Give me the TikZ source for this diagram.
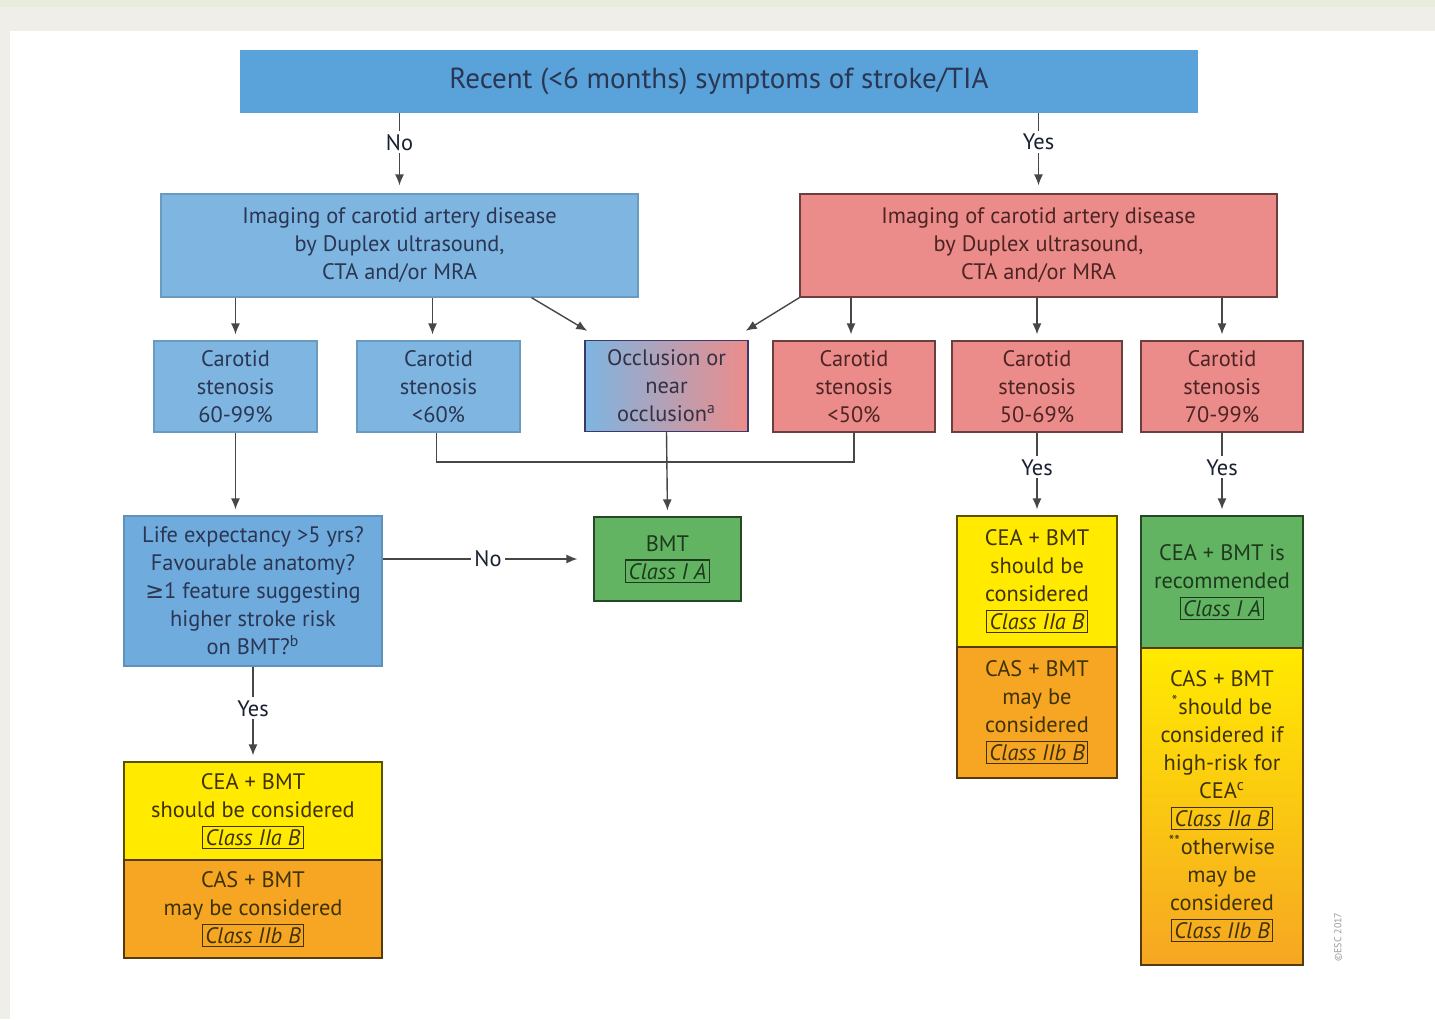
\documentclass[tikz,border=0pt]{standalone}
\usepackage{fontspec}
\setmainfont{PT Sans}
\newfontfamily\symf{DejaVu Sans}
\usetikzlibrary{arrows.meta}
\definecolor{pagebg}{HTML}{F0EEE8}
\definecolor{pagetop}{HTML}{E7EDDA}
\definecolor{banblue}{HTML}{5AA3DA}
\definecolor{boxblue}{HTML}{7EB5E1}
\definecolor{lifeblue}{HTML}{6FABDD}
\definecolor{boxred}{HTML}{EC8C8A}
\definecolor{boxgreen}{HTML}{62B462}
\definecolor{boxyellow}{HTML}{FFEA00}
\definecolor{boxorange}{HTML}{F6A623}
\definecolor{txtblue}{HTML}{2A3652}
\definecolor{txtred}{HTML}{4C2424}
\definecolor{txtgreen}{HTML}{1E3A1E}
\definecolor{txtyellow}{HTML}{3E3206}
\definecolor{linegray}{HTML}{474747}
\setlength{\fboxsep}{1.2pt}
\setlength{\fboxrule}{0.6pt}
\newcommand{\cls}[1]{\fbox{\itshape #1}}
\begin{document}
\begin{tikzpicture}[x=0.5pt,y=-0.5pt,
  box/.style={rectangle,draw,align=center,inner sep=0pt,line width=0.6pt,font=\fontsize{11.2}{14}\selectfont},
  bluebox/.style={box,fill=boxblue,draw=boxblue!85!black,text=txtblue},
  redbox/.style={box,fill=boxred,draw=boxred!45!black,text=txtred},
  greenbox/.style={box,fill=boxgreen,draw=boxgreen!40!black,text=txtgreen},
  yellowbox/.style={box,fill=boxyellow,draw=boxyellow!35!black,text=txtyellow},
  orangebox/.style={box,fill=boxorange,draw=boxorange!35!black,text=txtyellow},
  line/.style={draw=linegray,line width=0.7pt},
  flow/.style={line,-{Latex[length=5.5pt,width=4.5pt]},shorten >=3pt},
  lbl/.style={fill=white,inner sep=1.5pt,text=txtblue!60!black,font=\fontsize{11.2}{13}\selectfont}]
\useasboundingbox (0,0) rectangle (1435,1019);
\fill[white] (0,0) rectangle (1435,1019);
\fill[pagebg] (0,0) rectangle (1435,31);
\fill[pagetop] (0,0) rectangle (1435,7);
\fill[pagebg] (0,31) rectangle (10,1019);

\node[rectangle,fill=banblue,minimum width=479pt,minimum height=31.5pt,text=txtblue,font=\fontsize{14.5}{16}\selectfont] (recent) at (719,81.5) {Recent (<6 months) symptoms of stroke/TIA};

\node[bluebox,minimum width=238.5pt,minimum height=51.5pt] (limg) at (399.5,245.5) {Imaging of carotid artery disease\\by Duplex ultrasound,\\CTA and/or MRA};
\node[redbox,minimum width=238.5pt,minimum height=51.5pt] (rimg) at (1038.5,245.5) {Imaging of carotid artery disease\\by Duplex ultrasound,\\CTA and/or MRA};

\node[bluebox,minimum width=81.5pt,minimum height=45.5pt] (s6099) at (235.5,386.5) {Carotid\\stenosis\\60-99\%};
\node[bluebox,minimum width=81.5pt,minimum height=45.5pt] (s60) at (438.5,386.5) {Carotid\\stenosis\\<60\%};
\node[box,left color=boxblue,right color=boxred,draw=linegray!80!blue,text=txtblue!70!txtred,minimum width=81.5pt,minimum height=45.5pt] (occl) at (666.5,386) {Occlusion or\\near\\occlusion\textsuperscript{a}};
\node[redbox,minimum width=81pt,minimum height=45.5pt] (s50) at (854,386.5) {Carotid\\stenosis\\<50\%};
\node[redbox,minimum width=85pt,minimum height=45.5pt] (s5069) at (1037,386.5) {Carotid\\stenosis\\50-69\%};
\node[redbox,minimum width=81pt,minimum height=45.5pt] (s7099) at (1222,386.5) {Carotid\\stenosis\\70-99\%};

\node[box,fill=lifeblue,draw=lifeblue!85!black,text=txtblue,minimum width=129pt,minimum height=75pt] (life) at (253,591) {Life expectancy >5 yrs?\\Favourable anatomy?\\{\symf ≥}1 feature suggesting\\higher stroke risk\\on BMT?\textsuperscript{b}};
\node[greenbox,minimum width=73.5pt,minimum height=42pt] (bmt) at (667.5,559) {BMT\\\cls{Class I A}};

\node[yellowbox,minimum width=129pt,minimum height=49pt] (lcea) at (253,811) {CEA + BMT\\should be considered\\\cls{Class IIa B}};
\node[orangebox,minimum width=129pt,minimum height=49pt] (lcas) at (253,909) {CAS + BMT\\may be considered\\\cls{Class IIb B}};

\node[yellowbox,minimum width=80pt,minimum height=65.5pt] (mcea) at (1037,581.5) {CEA + BMT\\should be\\considered\\\cls{Class IIa B}};
\node[orangebox,minimum width=80pt,minimum height=65.5pt] (mcas) at (1037,712.5) {CAS + BMT\\may be\\considered\\\cls{Class IIb B}};

\node[greenbox,minimum width=81pt,minimum height=66pt] (rcea) at (1222,582) {CEA + BMT is\\recommended\\\cls{Class I A}};
\node[box,top color=boxyellow,bottom color=boxorange,draw=boxorange!35!black,text=txtyellow,minimum width=81pt,minimum height=158.5pt] (rcas) at (1222,806.5) {CAS + BMT\\\textsuperscript{*}should be\\considered if\\high-risk for\\CEA\textsuperscript{c}\\\cls{Class IIa B}\\\textsuperscript{**}otherwise\\may be\\considered\\\cls{Class IIb B}};

\node[rotate=90,text=gray!80,font=\fontsize{5}{6}\selectfont] (esc) at (1338,937) {\textcopyright ESC 2017};

\draw[flow,shorten >=4pt] (recent.south -| limg.north) -- node[lbl,pos=0.36] {No} (limg.north);
\draw[flow,shorten >=4pt] (recent.south -| rimg.north) -- node[lbl,pos=0.36] {Yes} (rimg.north);

\draw[flow] (limg.south -| s6099.north) -- (s6099.north);
\draw[flow] ([xshift=-3pt]limg.south -| s60.north) -- ([xshift=-3pt]s60.north);
\draw[flow] ([xshift=66pt]limg.south) -- ([xshift=4pt,yshift=3pt]occl.north west);
\draw[flow] (rimg.south west) -- ([xshift=-4pt,yshift=3pt]occl.north east);
\draw[flow] ([xshift=-1.5pt]rimg.south -| s50.north) -- ([xshift=-1.5pt]s50.north);
\draw[flow] (rimg.south -| s5069.north) -- (s5069.north);
\draw[flow] (rimg.south -| s7099.north) -- (s7099.north);

\coordinate (join) at (occl.south |- 0,462);
\draw[line] ([xshift=-1pt]s60.south) |- (join) -| (s50.south);
\draw[flow] (occl.south) -- (bmt.north);

\draw[flow] (s6099.south) -- (s6099.south |- life.north);
\draw[flow,shorten >=8pt] (bmt.west -| life.east) -- node[lbl] {No} (bmt.west);
\draw[flow] (life.south) -- node[lbl,pos=0.44] {Yes} (lcea.north);
\draw[flow] (s5069.south) -- node[lbl,pos=0.42] {Yes} (mcea.north);
\draw[flow] (s7099.south) -- node[lbl,pos=0.42] {Yes} (rcea.north);
\end{tikzpicture}
\end{document}
